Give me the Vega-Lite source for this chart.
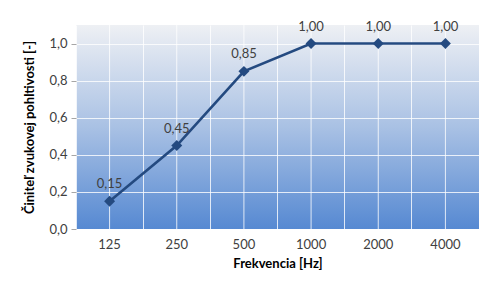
{
  "$schema": "https://vega.github.io/schema/vega-lite/v6.json",
  "width": 403,
  "height": 204,
  "autosize": {"type": "none"},
  "padding": {"left": 76, "top": 25, "right": 11, "bottom": 53},
  "background": "#ffffff",
  "data": {
    "values": [
      {"freq": "125", "alpha": 0.15},
      {"freq": "250", "alpha": 0.45},
      {"freq": "500", "alpha": 0.85},
      {"freq": "1000", "alpha": 1.0},
      {"freq": "2000", "alpha": 1.0},
      {"freq": "4000", "alpha": 1.0}
    ]
  },
  "encoding": {
    "x": {
      "field": "freq",
      "type": "ordinal",
      "sort": null,
      "scale": {"type": "band", "paddingInner": 0, "paddingOuter": 0},
      "axis": {
        "title": "Frekvencia [Hz]",
        "labelAngle": 0,
        "domain": false,
        "ticks": false,
        "grid": true,
        "bandPosition": 0,
        "gridColor": "#ffffff",
        "gridOpacity": 0.8,
        "gridWidth": 1,
        "labelPadding": 9,
        "titlePadding": 6
      }
    },
    "y": {
      "field": "alpha",
      "type": "quantitative",
      "scale": {"domain": [0, 1.1], "nice": false},
      "axis": {
        "title": "Činiteľ zvukovej pohltivosti [-]",
        "values": [0, 0.2, 0.4, 0.6, 0.8, 1.0],
        "format": ".1f",
        "domain": false,
        "ticks": true,
        "tickSize": 5,
        "tickColor": "#a6a6a6",
        "grid": true,
        "gridColor": "#ffffff",
        "gridOpacity": 0.8,
        "gridWidth": 1,
        "labelPadding": 4,
        "titlePadding": 12
      }
    }
  },
  "layer": [
    {
      "mark": {"type": "rule", "color": "#ffffff", "opacity": 0.8, "strokeWidth": 1},
      "encoding": {"y": null}
    },
    {
      "mark": {"type": "line", "color": "#244a80", "strokeWidth": 2.6}
    },
    {
      "mark": {"type": "point", "shape": "diamond", "filled": true, "color": "#244a80", "opacity": 1, "size": 120}
    },
    {
      "mark": {"type": "text", "baseline": "middle", "dy": -17, "fontSize": 13, "color": "#404040", "font": "Lato"},
      "encoding": {"text": {"field": "alpha", "type": "quantitative", "format": ".2f"}}
    }
  ],
  "config": {
    "locale": {"number": {"decimal": ",", "thousands": "\u00a0", "grouping": [3], "currency": ["", " €"]}},
    "view": {
      "stroke": null,
      "fill": {
        "gradient": "linear",
        "x1": 0, "y1": 0, "x2": 0, "y2": 1,
        "stops": [
          {"offset": 0, "color": "#eef0f4"},
          {"offset": 0.5, "color": "#a9c1e4"},
          {"offset": 1, "color": "#5689d2"}
        ]
      }
    },
    "axis": {
      "labelFont": "Lato",
      "labelFontSize": 13,
      "labelColor": "#404040",
      "titleFont": "Lato",
      "titleFontSize": 13,
      "titleFontWeight": "bold",
      "titleColor": "#000000"
    }
  }
}
